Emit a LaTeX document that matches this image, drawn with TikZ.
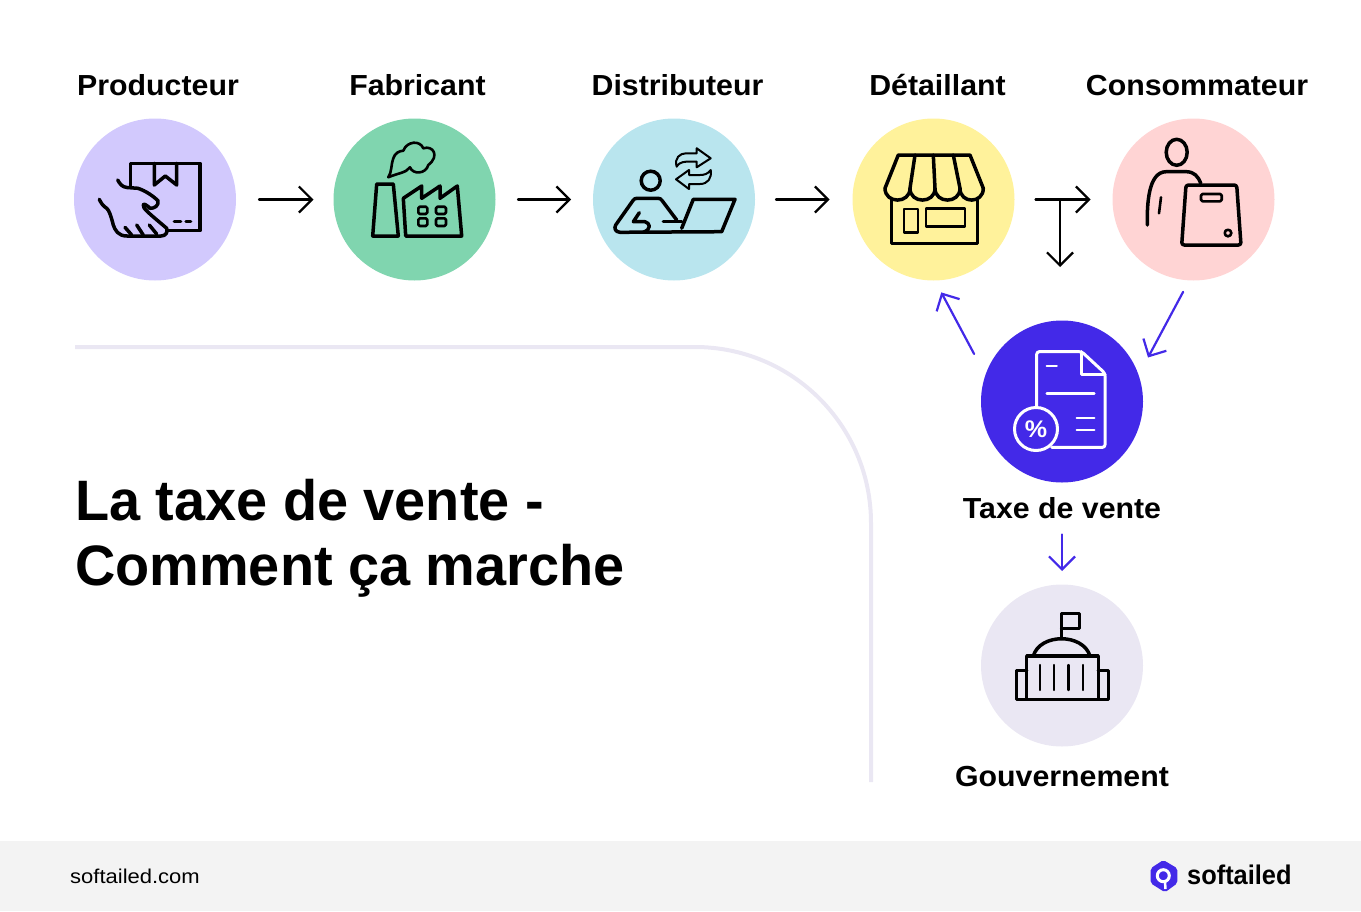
\documentclass[tikz,border=0pt]{standalone}
\usepackage{fontspec}
\usetikzlibrary{arrows.meta}
\newfontfamily\labelfont[FakeStretch=1.045]{Liberation Sans Bold}
\newfontfamily\titlefont[FakeStretch=0.98]{Liberation Sans Bold}
\newfontfamily\plainfont[FakeStretch=1.1]{Liberation Sans}
\newfontfamily\brandfont[FakeStretch=0.94]{Liberation Sans Bold}
\definecolor{lilac}{HTML}{D2C9FD}
\definecolor{mint}{HTML}{80D5AF}
\definecolor{sky}{HTML}{B9E5EE}
\definecolor{lemon}{HTML}{FFF29B}
\definecolor{blush}{HTML}{FFD4D4}
\definecolor{indigo}{HTML}{4329E8}
\definecolor{mist}{HTML}{EAE7F3}
\definecolor{band}{HTML}{F3F3F3}
\tikzset{
    disc/.style={circle, minimum size=162pt, inner sep=0pt, outer sep=0pt},
    caption/.style={anchor=base, inner sep=0pt, font=\labelfont\fontsize{29}{29}\selectfont},
    flow/.style={-{Straight Barb[length=13pt,width=26pt]}, line width=2.2pt, line cap=round, line join=round},
    taxflow/.style={flow, color=indigo},
    iconline/.style={line width=3.5pt, line cap=round, line join=round},
    iconthin/.style={line width=2pt, line cap=round, line join=round},
    whiteline/.style={iconline, line width=3pt, color=white},
    curve/.style={line width=4pt, color=mist}
}
\begin{document}
\begin{tikzpicture}[x=1pt,y=-1pt]

    \useasboundingbox (0,0) rectangle (1361,911);
    \path [fill=band] (0,841) rectangle (1361,911);

    \node [caption] at (158,95) (Lprod) {Producteur};
    \node [caption] at (417.5,95) (Lfab) {Fabricant};
    \node [caption] at (677.5,95) (Ldist) {Distributeur};
    \node [caption] at (937.5,95) (Ldet) {Détaillant};
    \node [caption] at (1197,95) (Lcons) {Consommateur};

    \node [disc, fill=lilac] at (155,199.5) (prod) {};
    \node [disc, fill=mint] at (414.5,199.5) (fab) {};
    \node [disc, fill=sky] at (674,199.5) (dist) {};
    \node [disc, fill=lemon] at (933.5,199.5) (det) {};
    \node [disc, fill=blush] at (1193.5,199.5) (cons) {};
    \node [disc, fill=indigo] at (1062,401.5) (tax) {};
    \node [disc, fill=mist] at (1062,665.5) (gov) {};

    \node [caption] at (1062,518) (Ltax) {Taxe de vente};
    \node [caption] at (1062,786) (Lgov) {Gouvernement};

    \coordinate (split) at (1060,199.5);
    \coordinate (splitend) at (1060,267);

    \path [flow,draw,shorten <=23pt,shorten >=20pt] (prod) -- (fab);
    \path [flow,draw,shorten <=22.5pt,shorten >=22pt] (fab) -- (dist);
    \path [flow,draw,shorten <=21pt,shorten >=23pt] (dist) -- (det);
    \path [flow,draw,shorten <=21pt,shorten >=22pt] (det) -- (cons);
    \path [flow,draw] (split) -- (splitend);
    \path [taxflow,draw,shorten <=13pt,shorten >=20pt] (cons.267) -- (tax.19);
    \path [taxflow,draw,shorten <=24pt,shorten >=13.5pt] (tax.161.7) -- (det.271);
    \path [taxflow,draw,shorten <=16pt,shorten >=13.5pt] (Ltax.south) -- (gov.north);

    \path [curve,draw,rounded corners=176pt] (75,347) -| (871,782);

    \node [anchor=base west, inner sep=0pt, font=\titlefont\fontsize{57}{66}\selectfont] at (75,520) (Ltitlea) {La taxe de vente -};
    \node [anchor=base west, inner sep=0pt, font=\titlefont\fontsize{57}{66}\selectfont] at (75,585) (Ltitleb) {Comment ça marche};

    \node [anchor=base west, inner sep=0pt, font=\plainfont\fontsize{20}{20}\selectfont] at (70,883) (Lsite) {softailed.com};
    \node [anchor=base west, inner sep=0pt, font=\brandfont\fontsize{27}{27}\selectfont] at (1187,884) (Lbrand) {softailed};

    % box and hand
    \path [iconline,draw] (130.7,186.7) -- (130.7,163.3) -- (200,163.3) -- (200,230.7) -- (168.3,230.7);
    \path [iconline,draw] (154.3,163.3) -- (154.3,185) -- (165.3,176) -- (176.7,185) -- (176.7,163.3);
    \path [iconline,draw] (174.3,221.7) -- (180.7,221.7);
    \path [iconline,draw] (186,221.7) -- (190.7,221.7);
    \path [iconline,draw] (117.7,180) .. controls (120,184) and (122,187) .. (127,187.5) -- (138,188.3) .. controls (146,191) and (153,196) .. (158,200.7) .. controls (159,206) and (154,208.5) .. (150,208.3) .. controls (147,205) and (143,203) .. (143.3,205) .. controls (142,208) and (150,214) .. (166.7,228.3) .. controls (168,232) and (166,236) .. (161,236) -- (127,236) .. controls (118,236) and (115,230) .. (113.3,225) .. controls (111,216) and (109,210) .. (106.7,208.3) .. controls (103,206) and (101,203) .. (99.3,199.3);
    \path [iconline,draw] (125,227.3) -- (131.7,235);
    \path [iconline,draw] (136.7,225) -- (143.3,235);
    \path [iconline,draw] (149.3,225) -- (156.7,234);

    % factory
    \path [iconline,draw] (376.7,184) -- (393.3,184) -- (398.3,236) -- (372.7,236) -- cycle;
    \path [iconline,draw] (403.3,198.3) -- (421.7,186) -- (421.7,198.3) -- (440,186) -- (440,198.3) -- (457.3,186) -- (461.7,236) -- (405.7,236) -- cycle;
    \path [iconline,draw,line width=2.6pt,rounded corners=1.5pt] (418.3,206.7) rectangle (427.3,214);
    \path [iconline,draw,line width=2.6pt,rounded corners=1.5pt] (436,206.7) rectangle (446,214);
    \path [iconline,draw,line width=2.6pt,rounded corners=1.5pt] (418.3,218.3) rectangle (427.3,226);
    \path [iconline,draw,line width=2.6pt,rounded corners=1.5pt] (436,218.3) rectangle (446,226);
    \path [iconline,draw,line width=2.6pt] (388.3,177.3) .. controls (392,172) and (391,164) .. (393.3,158.3) .. controls (395,153) and (399,151) .. (403.3,150.7) .. controls (407,141) and (420,140) .. (423.3,148.3) .. controls (433,145) and (440,156) .. (428.3,165) .. controls (426,174) and (413,175) .. (410,167.3) .. controls (406,173) and (398,173) .. (388.3,177.3);

    % person at laptop
    \path [iconline,draw] (650.7,180.7) circle [radius=9.5pt];
    \path [iconline,draw] (681.7,228.3) -- (693.3,199.3) -- (735,199.3) -- (721.7,231.7) -- (620,232.3) .. controls (615,232) and (614,228) .. (615.7,225) -- (633,200.5) .. controls (634,199) and (635,198.3) .. (637,198.3) -- (658,198.3) .. controls (660,198.3) and (661,199) .. (662,200.5) -- (676.7,220);
    \path [iconline,draw] (663.3,221.7) -- (681.7,221.7);
    \path [iconline,draw] (639.3,212.7) -- (633.3,221.7) -- (645,221.7) .. controls (650,223) and (652,229) .. (643.3,232.3);
    \path [iconthin,draw] (696.7,153.3) -- (696.7,148.3) -- (710.7,158.3) -- (696.7,167.3) -- (696.7,161.7) -- (686,161.7) .. controls (681,162) and (678,164) .. (676.7,166.7) .. controls (674,158) and (680,153.3) .. (686,153.3) -- cycle;
    \path [iconthin,draw] (689,175) -- (689,170) -- (676,179.3) -- (689,189) -- (689,184) -- (700,184) .. controls (708,184) and (712,178) .. (710.7,170) .. controls (708,174) and (704,175) .. (700,175) -- cycle;

    % shop
    \path [iconline,draw] (885,188.3) -- (898.3,155) -- (970,155) -- (983.3,188.3);
    \path [iconline,draw] (885,188.3) .. controls (885,204) and (910,204) .. (910,188.3) .. controls (910,204) and (935,204) .. (935,188.3) .. controls (935,204) and (960,204) .. (960,188.3) .. controls (960,204) and (983.3,204) .. (983.3,188.3);
    \path [iconline,draw] (915,155) -- (910,188.3);
    \path [iconline,draw] (933.3,155) -- (935,188.3);
    \path [iconline,draw] (953.3,155) -- (960,188.3);
    \path [iconline,draw] (891.7,200) -- (891.7,243.3) -- (977.7,243.3) -- (977.7,200);
    \path [iconline,draw,line width=2.6pt] (904,209) rectangle (918,232.7);
    \path [iconline,draw,line width=2.6pt] (926,208.3) rectangle (965,226.7);

    % customer with parcel
    \path [iconline,draw] (1176.7,152.3) ellipse [x radius=10.5pt, y radius=13pt];
    \path [iconline,draw] (1147.3,225) .. controls (1147,205) and (1148,172) .. (1166,171.7) -- (1186.7,171.7) .. controls (1194,172) and (1198,176) .. (1200.7,183.3);
    \path [iconline,draw,line width=2.6pt] (1161,197.3) -- (1159,213.3);
    \path [iconline,draw,rounded corners=2.5pt] (1186,185) -- (1236.7,185) -- (1241,245) -- (1181.7,245) -- cycle;
    \path [iconline,draw,line width=2.6pt,rounded corners=1.5pt] (1201,194) rectangle (1221.7,201.3);
    \path [iconline,draw,line width=2.6pt] (1228,233) circle [radius=3.3pt];

    % tax sheet
    \path [whiteline,draw,rounded corners=2.5pt] (1036.7,406.7) -- (1036.7,351.7) -- (1081.7,351.7) -- (1105,373.3) -- (1105,447.3) -- (1051.7,447.3);
    \path [whiteline,draw] (1081.7,351.7) -- (1081.7,374) -- (1105,374);
    \path [whiteline,draw,line width=2.4pt] (1046.7,366) -- (1056.7,366);
    \path [whiteline,draw,line width=2.4pt] (1046.7,393.3) -- (1094.3,393.3);
    \path [whiteline,draw,line width=2.4pt] (1076.7,417.7) -- (1094.3,417.7);
    \path [whiteline,draw,line width=2.4pt] (1076.7,430) -- (1094.3,430);
    \node [circle, draw=white, line width=3pt, minimum size=43pt, inner sep=0pt, text=white, font=\labelfont\fontsize{24}{24}\selectfont] at (1036,429) (pct) {\%};

    % government building
    \path [iconline,draw] (1061.7,638.3) -- (1061.7,613.3) -- (1079.3,613.3) -- (1079.3,628.3) -- (1061.7,628.3);
    \path [iconline,draw] (1033.3,656) .. controls (1040,633) and (1083,633) .. (1090,656);
    \path [iconline,draw] (1026.7,656) rectangle (1098.3,699.3);
    \path [iconline,draw] (1026.7,670.7) -- (1016.7,670.7) -- (1016.7,699.3) -- (1026.7,699.3);
    \path [iconline,draw] (1098.3,670.7) -- (1108.3,670.7) -- (1108.3,699.3) -- (1098.3,699.3);
    \path [iconline,draw,line width=2.4pt] (1040,665) -- (1040,690);
    \path [iconline,draw,line width=2.4pt] (1054,665) -- (1054,690);
    \path [iconline,draw,line width=2.4pt] (1068.3,665) -- (1068.3,690);
    \path [iconline,draw,line width=2.4pt] (1082.7,665) -- (1082.7,690);

    % logo
    \path [fill=indigo,rounded corners=2pt] (1163.3,860) -- (1177.3,868.3) -- (1177.3,883.3) -- (1165,892.3) -- (1150.7,883.3) -- (1150.7,868.3) -- cycle;
    \path [draw=white,line width=3pt] (1163.3,875.7) circle [radius=6pt];
    \path [draw=white,line width=2.5pt] (1165,882) -- (1165.5,889);

\end{tikzpicture}
\end{document}
